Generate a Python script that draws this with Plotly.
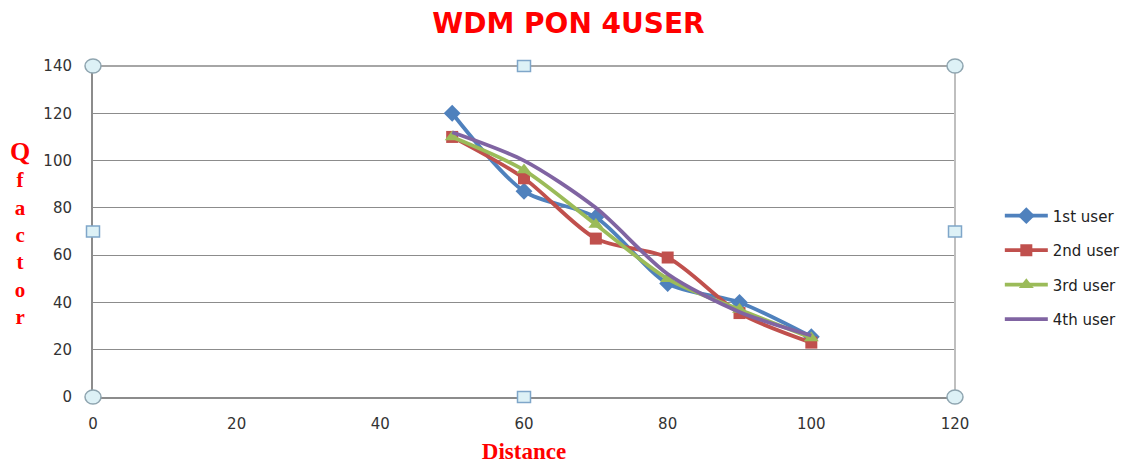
import plotly.graph_objects as go

# Distance values and Q factor per user
distance = [50, 60, 70, 80, 90, 100]
user1 = [120, 87, 76, 48, 40, 25.5]
user2 = [110, 92.5, 67, 59, 35.5, 23]
user3 = [110, 96, 73, 50, 37, 25]
user4 = [112, 100, 80, 52, 36, 26]

x_ticks = [0, 20, 40, 60, 80, 100, 120]
y_ticks = [0, 20, 40, 60, 80, 100, 120, 140]

series = [
    ("1st user", user1, "#4F81BD", dict(symbol="diamond", size=13)),
    ("2nd user", user2, "#C0504D", dict(symbol="square", size=12)),
    ("3rd user", user3, "#9BBB59", dict(symbol="triangle-up", size=13)),
    ("4th user", user4, "#8064A2", None),
]

fig = go.Figure()
for i, (name, vals, color, marker) in enumerate(series):
    fig.add_trace(go.Scatter(
        x=distance, y=vals, name=name,
        mode="lines+markers" if marker else "lines",
        line=dict(color=color, width=3.8, shape="spline", smoothing=0.8),
        marker=dict(color=color, **marker) if marker else None,
        legendgroup=f"g{i}",
    ))

tick_font = dict(family="DejaVu Sans", size=15, color="#333333")
fig.update_layout(
    width=1137, height=464,
    margin=dict(l=93, r=182, t=66, b=67, autoexpand=False),
    paper_bgcolor="white", plot_bgcolor="white",
    title=dict(text="<b>WDM PON 4USER</b>", x=0.5, xref="container",
               y=0.95, yref="container", yanchor="middle",
               font=dict(family="DejaVu Sans", size=28, color="#FF0000")),
    xaxis=dict(range=[0, 120], tickvals=x_ticks, showgrid=False, zeroline=False,
               showline=True, linecolor="#8C8C8C", linewidth=2, automargin=False,
               ticks="", ticklabelstandoff=12, tickfont=tick_font,
               title=dict(text="<b>Distance</b>", standoff=12,
                          font=dict(family="Liberation Serif", size=23, color="#FF0000"))),
    yaxis=dict(range=[0, 140], tickvals=y_ticks, showgrid=True, gridcolor="#8C8C8C",
               gridwidth=1.2, zeroline=False, showline=True, linecolor="#8C8C8C",
               linewidth=2, automargin=False, ticks="", ticklabelstandoff=16, tickfont=tick_font),
    legend=dict(x=1.052, y=0.597, xanchor="left", yanchor="top",
                font=dict(family="DejaVu Sans", size=15, color="#222222"),
                tracegroupgap=12, itemwidth=43, bgcolor="rgba(0,0,0,0)"),
    showlegend=True,
)

# Vertical axis title drawn as stacked letters
fig.add_annotation(
    text="<b><span style='font-size:26px'>Q</span><br>f<br>a<br>c<br>t<br>o<br>r</b>",
    xref="paper", yref="paper", x=-0.085, y=0.495, showarrow=False,
    xanchor="center", yanchor="middle",
    font=dict(family="Liberation Serif", size=21, color="#FF0000"),
)

# Plot-area frame (top and right edges)
fig.add_shape(type="line", xref="paper", yref="paper", x0=0, x1=1, y0=1, y1=1,
              line=dict(color="#A6A6A6", width=2))
fig.add_shape(type="line", xref="paper", yref="paper", x0=1, x1=1, y0=0, y1=1,
              line=dict(color="#BFBFBF", width=2))

# Selection handles around the plot area
for hx, hy, kind in [(0, 0, "circle"), (0, 1, "circle"), (1, 0, "circle"), (1, 1, "circle"),
                     (0.5, 1, "rect"), (0.5, 0, "rect"), (0, 0.5, "rect"), (1, 0.5, "rect")]:
    w, h = (16, 14) if kind == "circle" else (13, 11)
    fig.add_shape(type=kind, xref="paper", yref="paper", xsizemode="pixel", ysizemode="pixel",
                  xanchor=hx, yanchor=hy, x0=-w / 2, x1=w / 2, y0=-h / 2, y1=h / 2,
                  fillcolor="#DDF1F6", line=dict(color="#8FA5B0" if kind == "circle" else "#7FA6C9", width=1.5))

fig.write_html("out.html")
